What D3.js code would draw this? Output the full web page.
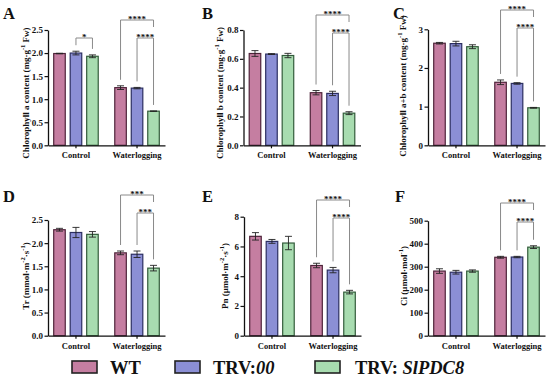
<!DOCTYPE html>
<html>
<head>
<meta charset="utf-8">
<script src="https://cdn.jsdelivr.net/npm/d3@7"></script>
<style>
body{margin:0;background:#fff}
svg text{font-family:"Liberation Serif","Times New Roman",serif;font-weight:bold;fill:#111}
</style>
</head>
<body>
<svg id="fig" width="550" height="380"></svg>
<script>
const groups = ["Control", "Waterlogging"];
const seriesNames = ["WT", "TRV:00", "TRV: SlPDC8"];
const seriesFill = ["#c57ea1", "#8b8fd5", "#a8dcb0"];
const seriesLine = ["#4e2339", "#2c2f62", "#335c3b"];

// rows = groups, cols = series
const chlA    = [[1.99, 2.00, 1.93], [1.25, 1.24, 0.74]];
const chlAErr = [[0.005, 0.04, 0.03], [0.04, 0.015, 0.005]];
const chlB    = [[0.637, 0.633, 0.623], [0.365, 0.36, 0.223]];
const chlBErr = [[0.02, 0.003, 0.015], [0.015, 0.015, 0.01]];
const chlAB    = [[2.64, 2.63, 2.55], [1.63, 1.60, 0.97]];
const chlABErr = [[0.02, 0.06, 0.05], [0.06, 0.02, 0.01]];
const tr    = [[2.29, 2.23, 2.19], [1.79, 1.76, 1.46]];
const trErr = [[0.03, 0.11, 0.06], [0.04, 0.07, 0.06]];
const pn    = [[6.68, 6.34, 6.23], [4.72, 4.41, 2.93]];
const pnErr = [[0.25, 0.13, 0.45], [0.15, 0.18, 0.12]];
const ci    = [[281, 276, 281], [341, 342, 385]];
const ciErr = [[10, 8, 5], [4, 3, 6]];

// significance: group, bar a, bar b, stars, level (0 inner, 1 outer)
const sigA  = [[0, 1, 2, "*", 0], [1, 0, 2, "****", 1], [1, 1, 2, "****", 0]];
const sigB  = [[1, 0, 2, "****", 1], [1, 1, 2, "****", 0]];
const sigAB = [[1, 0, 2, "****", 1], [1, 1, 2, "****", 0]];
const sigTr = [[1, 0, 2, "***", 1], [1, 1, 2, "***", 0]];
const sigPn = [[1, 0, 2, "****", 1], [1, 1, 2, "****", 0]];
const sigCi = [[1, 0, 2, "****", 1], [1, 1, 2, "****", 0]];

const panels = [
  {letter:"A", mean:chlA, err:chlAErr, max:2.5, step:0.5, fmt:".1f", sig:sigA,
   x0:48, top:30, bottom:145.3, labX:25, labY:93, letX:3, letY:19, brY:[38,20],
   label:[["Chlorophyll a content (mg·g",0],["-1",1],[" Fw)",0]]},
  {letter:"B", mean:chlB, err:chlBErr, max:0.8, step:0.2, fmt:".1f", sig:sigB,
   x0:243.5, top:30, bottom:145.3, labX:219, labY:93, letX:202, letY:19, brY:[33,15],
   label:[["Chlorophyll b content (mg·g",0],["-1",1],[" Fw)",0]]},
  {letter:"C", mean:chlAB, err:chlABErr, max:3, step:1, fmt:"d", sig:sigAB,
   x0:428, top:29.3, bottom:145.3, labX:402, labY:86, letX:393, letY:19, brY:[28,10],
   label:[["Chlorophyll a+b content (mg·g",0],["-1",1],[" Fw)",0]]},
  {letter:"D", mean:tr, err:trErr, max:2.5, step:0.5, fmt:".1f", sig:sigTr,
   x0:48, top:220, bottom:335.7, labX:25, labY:276, letX:3, letY:202, brY:[213,195],
   label:[["Tr (mmol·m",0],["-2",1],["·s",0],["-1",1],[")",0]]},
  {letter:"E", mean:pn, err:pnErr, max:8, step:2, fmt:"d", sig:sigPn,
   x0:244, top:216.7, bottom:335.7, labX:224, labY:276, letX:202, letY:202, brY:[218,200],
   label:[["Pn (μmol·m",0],["-2",1],["·s",0],["-1",1],[")",0]]},
  {letter:"F", mean:ci, err:ciErr, max:500, step:100, fmt:"d", sig:sigCi,
   x0:428, top:220.7, bottom:335.7, labX:403, labY:276, letX:395, letY:202, brY:[222,203],
   label:[["Ci (μmol·mol",0],["-1",1],[")",0]]}
];

const svg = d3.select("#fig");

var drawPanel = function(p){
  var g = svg.append("g");
  var x = d3.scaleBand().domain(groups).range([p.x0, p.x0 + 117])
      .paddingInner(0.19).paddingOuter(0.053);
  var xs = d3.scaleBand().domain(d3.range(3)).range([0, x.bandwidth()])
      .paddingInner(0.3).paddingOuter(0.15);
  var y = d3.scaleLinear().domain([0, p.max]).range([p.bottom, p.top]);
  var barX = function(gi, si){ return x(groups[gi]) + xs(si); };
  var bw = xs.bandwidth();

  // bars + error bars
  groups.forEach(function(grp, gi){
    p.mean[gi].forEach(function(v, si){
      g.append("rect")
        .attr("x", barX(gi, si)).attr("y", y(v))
        .attr("width", bw).attr("height", y(0) - y(v))
        .attr("fill", seriesFill[si]).attr("stroke", seriesLine[si])
        .attr("stroke-width", 1.2);
      var e = p.err[gi][si], cx = barX(gi, si) + bw/2;
      g.append("path")
        .attr("d", `M${cx},${y(v-e)}V${y(v+e)}M${cx-3.5},${y(v+e)}H${cx+3.5}M${cx-3.5},${y(v-e)}H${cx+3.5}`)
        .attr("stroke", "#222").attr("stroke-width", 0.9).attr("fill", "none");
    });
  });

  // axes
  var ya = g.append("g").attr("transform", `translate(${p.x0},0)`)
    .call(d3.axisLeft(y).tickValues(d3.range(0, p.max + p.step/2, p.step))
      .tickFormat(d3.format(p.fmt)).tickSize(3.5).tickPadding(1.5).tickSizeOuter(0));
  var xa = g.append("g").attr("transform", `translate(0,${p.bottom})`)
    .call(d3.axisBottom(x).tickSize(3).tickPadding(4).tickSizeOuter(0));
  [ya, xa].forEach(function(a){
    a.attr("font-family", null);
    a.select(".domain").attr("stroke", "#111").attr("stroke-width", 1.3);
    a.selectAll(".tick line").attr("stroke", "#111").attr("stroke-width", 1.2);
  });
  ya.selectAll("text").attr("font-size", 9);
  xa.selectAll("text").attr("font-size", 8.5);

  // significance brackets
  p.sig.forEach(function(s){
    var gi = s[0], a = s[1], b = s[2], lvl = s[4];
    var xa_ = barX(gi, a) + bw/2, xb = barX(gi, b) + bw/2;
    var ly = p.brY[lvl];
    var topA = y(p.mean[gi][a] + p.err[gi][a]) - 6;
    var topB = lvl == 1 ? ly + 7 : y(p.mean[gi][b] + p.err[gi][b]) - 6;
    g.append("path")
      .attr("d", `M${xa_},${topA}V${ly}H${xb}V${topB}`)
      .attr("stroke", "#8a8a8a").attr("stroke-width", 1).attr("fill", "none");
    g.append("text").attr("x", (xa_ + xb)/2).attr("y", ly + 1.5)
      .attr("text-anchor", "middle").attr("font-size", 9).text(s[3]);
  });

  // y label
  var t = g.append("text").attr("transform", `translate(${p.labX},${p.labY}) rotate(-90)`)
    .attr("text-anchor", "middle").attr("dy", "0.35em").attr("font-size", 9);
  p.label.forEach(function(part){
    if(part[1]){
      t.append("tspan").attr("dy", -3.5).attr("font-size", 6.5).text(part[0]);
    }else{
      t.append("tspan").attr("dy", t.selectAll("tspan").size() ? 3.5 : 0).text(part[0]);
    }
  });

  // panel letter
  g.append("text").attr("x", p.letX).attr("y", p.letY)
    .attr("font-size", 16.5).text(p.letter);
};

panels.forEach(drawPanel);

// legend
const legSwatchX = [72, 175, 315];
const legTextX = [110, 213, 355];
seriesNames.forEach(function(name, i){
  svg.append("rect").attr("x", legSwatchX[i]).attr("y", 361)
    .attr("width", 25).attr("height", 12)
    .attr("fill", seriesFill[i]).attr("stroke", "#222").attr("stroke-width", 1.6);
  var t = svg.append("text").attr("x", legTextX[i]).attr("y", 373.5).attr("font-size", 18.5);
  var idx = name.indexOf(":");
  if(idx < 0){
    t.text(name);
  }else{
    var rest = name.slice(idx + 1);
    var lead = rest.startsWith(" ") ? " " : "";
    t.append("tspan").text(name.slice(0, idx + 1) + lead);
    t.append("tspan").attr("font-style", "italic").text(rest.trim());
  }
});
</script>
</body>
</html>
